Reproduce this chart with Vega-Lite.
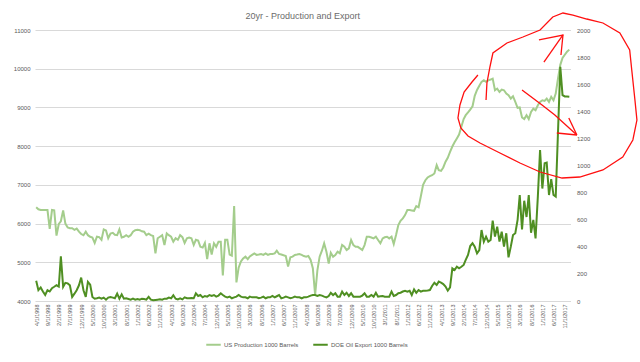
{
  "$schema": "https://vega.github.io/schema/vega-lite/v6.json",
  "width": 535.5,
  "height": 271,
  "autosize": "none",
  "padding": {"left": 35, "top": 30, "right": 69.5, "bottom": 61},
  "background": "white",
  "title": {"text": "20yr - Production  and Export", "font": "Liberation Sans", "fontSize": 9, "fontWeight": "normal", "color": "#6b6b6b", "anchor": "middle", "baseline": "bottom", "offset": -20},
  "config": {
    "view": {"stroke": null},
    "axis": {"labelFont": "Liberation Sans", "labelColor": "#595959", "labelFontSize": 6, "ticks": false, "tickSize": 0, "domain": false, "gridColor": "#d9d9d9", "gridWidth": 1, "title": null}
  },
  "datasets": {
    "series": [
      {"d":"1998-04-01","p":6420,"e":150},{"d":"1998-05-01","p":6370,"e":80},{"d":"1998-06-01","p":6350,"e":100},{"d":"1998-07-01","p":6350,"e":70},{"d":"1998-08-01","p":6350,"e":45},{"d":"1998-09-01","p":6350,"e":80},{"d":"1998-10-01","p":5860,"e":70},{"d":"1998-11-01","p":6350,"e":95},{"d":"1998-12-01","p":6340,"e":105},
      {"d":"1999-01-01","p":5690,"e":116},{"d":"1999-02-01","p":5990,"e":106},{"d":"1999-03-01","p":6060,"e":330},{"d":"1999-04-01","p":6340,"e":104},{"d":"1999-05-01","p":6000,"e":134},{"d":"1999-06-01","p":5900,"e":130},{"d":"1999-07-01","p":5880,"e":116},{"d":"1999-08-01","p":5880,"e":30},{"d":"1999-09-01","p":5840,"e":54},{"d":"1999-10-01","p":5870,"e":80},{"d":"1999-11-01","p":5790,"e":116},{"d":"1999-12-01","p":5730,"e":173},
      {"d":"2000-01-01","p":5700,"e":79},{"d":"2000-02-01","p":5790,"e":30},{"d":"2000-03-01","p":5700,"e":141},{"d":"2000-04-01","p":5660,"e":120},{"d":"2000-05-01","p":5640,"e":30},{"d":"2000-06-01","p":5500,"e":17},{"d":"2000-07-01","p":5660,"e":20},{"d":"2000-08-01","p":5650,"e":25},{"d":"2000-09-01","p":5580,"e":17},{"d":"2000-10-01","p":5850,"e":25},{"d":"2000-11-01","p":5820,"e":10},{"d":"2000-12-01","p":5620,"e":25},
      {"d":"2001-01-01","p":5740,"e":30},{"d":"2001-02-01","p":5760,"e":25},{"d":"2001-03-01","p":5710,"e":20},{"d":"2001-04-01","p":5700,"e":54},{"d":"2001-05-01","p":5850,"e":17},{"d":"2001-06-01","p":5640,"e":49},{"d":"2001-07-01","p":5660,"e":17},{"d":"2001-08-01","p":5700,"e":20},{"d":"2001-09-01","p":5660,"e":15},{"d":"2001-10-01","p":5700,"e":10},{"d":"2001-11-01","p":5790,"e":17},{"d":"2001-12-01","p":5830,"e":10},
      {"d":"2002-01-01","p":5840,"e":15},{"d":"2002-02-01","p":5830,"e":10},{"d":"2002-03-01","p":5800,"e":17},{"d":"2002-04-01","p":5790,"e":15},{"d":"2002-05-01","p":5700,"e":10},{"d":"2002-06-01","p":5740,"e":30},{"d":"2002-07-01","p":5700,"e":10},{"d":"2002-08-01","p":5680,"e":5},{"d":"2002-09-01","p":5230,"e":8},{"d":"2002-10-01","p":5620,"e":10},{"d":"2002-11-01","p":5660,"e":12},{"d":"2002-12-01","p":5700,"e":10},
      {"d":"2003-01-01","p":5445,"e":17},{"d":"2003-02-01","p":5745,"e":17},{"d":"2003-03-01","p":5700,"e":25},{"d":"2003-04-01","p":5660,"e":20},{"d":"2003-05-01","p":5530,"e":42},{"d":"2003-06-01","p":5620,"e":17},{"d":"2003-07-01","p":5580,"e":12},{"d":"2003-08-01","p":5700,"e":20},{"d":"2003-09-01","p":5650,"e":12},{"d":"2003-10-01","p":5500,"e":27},{"d":"2003-11-01","p":5620,"e":20},{"d":"2003-12-01","p":5640,"e":20},
      {"d":"2004-01-01","p":5620,"e":22},{"d":"2004-02-01","p":5450,"e":20},{"d":"2004-03-01","p":5580,"e":57},{"d":"2004-04-01","p":5560,"e":37},{"d":"2004-05-01","p":5400,"e":44},{"d":"2004-06-01","p":5380,"e":27},{"d":"2004-07-01","p":5500,"e":37},{"d":"2004-08-01","p":5080,"e":32},{"d":"2004-09-01","p":5490,"e":44},{"d":"2004-10-01","p":5200,"e":37},{"d":"2004-11-01","p":5490,"e":44},{"d":"2004-12-01","p":5400,"e":32},
      {"d":"2005-01-01","p":5530,"e":40},{"d":"2005-02-01","p":5530,"e":57},{"d":"2005-03-01","p":4660,"e":44},{"d":"2005-04-01","p":5580,"e":32},{"d":"2005-05-01","p":5580,"e":27},{"d":"2005-06-01","p":5200,"e":32},{"d":"2005-07-01","p":5170,"e":20},{"d":"2005-08-01","p":6450,"e":27},{"d":"2005-09-01","p":4480,"e":32},{"d":"2005-10-01","p":4860,"e":44},{"d":"2005-11-01","p":5020,"e":32},{"d":"2005-12-01","p":5100,"e":27},
      {"d":"2006-01-01","p":5146,"e":27},{"d":"2006-02-01","p":5080,"e":20},{"d":"2006-03-01","p":5150,"e":32},{"d":"2006-04-01","p":5190,"e":27},{"d":"2006-05-01","p":5230,"e":27},{"d":"2006-06-01","p":5190,"e":27},{"d":"2006-07-01","p":5200,"e":20},{"d":"2006-08-01","p":5215,"e":25},{"d":"2006-09-01","p":5190,"e":32},{"d":"2006-10-01","p":5230,"e":20},{"d":"2006-11-01","p":5190,"e":27},{"d":"2006-12-01","p":5215,"e":27},
      {"d":"2007-01-01","p":5215,"e":37},{"d":"2007-02-01","p":5230,"e":27},{"d":"2007-03-01","p":5300,"e":35},{"d":"2007-04-01","p":5215,"e":44},{"d":"2007-05-01","p":5200,"e":20},{"d":"2007-06-01","p":5180,"e":25},{"d":"2007-07-01","p":5164,"e":32},{"d":"2007-08-01","p":4890,"e":27},{"d":"2007-09-01","p":5130,"e":20},{"d":"2007-10-01","p":5146,"e":25},{"d":"2007-11-01","p":5190,"e":32},{"d":"2007-12-01","p":5200,"e":27},
      {"d":"2008-01-01","p":5215,"e":27},{"d":"2008-02-01","p":5190,"e":20},{"d":"2008-03-01","p":5160,"e":27},{"d":"2008-04-01","p":5146,"e":27},{"d":"2008-05-01","p":5164,"e":32},{"d":"2008-06-01","p":5060,"e":40},{"d":"2008-07-01","p":4845,"e":44},{"d":"2008-08-01","p":4155,"e":44},{"d":"2008-09-01","p":4800,"e":37},{"d":"2008-10-01","p":5145,"e":44},{"d":"2008-11-01","p":5300,"e":40},{"d":"2008-12-01","p":5490,"e":32},
      {"d":"2009-01-01","p":5273,"e":27},{"d":"2009-02-01","p":4970,"e":37},{"d":"2009-03-01","p":5247,"e":61},{"d":"2009-04-01","p":5145,"e":44},{"d":"2009-05-01","p":5187,"e":57},{"d":"2009-06-01","p":5273,"e":32},{"d":"2009-07-01","p":5230,"e":32},{"d":"2009-08-01","p":5445,"e":69},{"d":"2009-09-01","p":5400,"e":44},{"d":"2009-10-01","p":5316,"e":61},{"d":"2009-11-01","p":5360,"e":37},{"d":"2009-12-01","p":5575,"e":57},
      {"d":"2010-01-01","p":5445,"e":32},{"d":"2010-02-01","p":5400,"e":32},{"d":"2010-03-01","p":5400,"e":32},{"d":"2010-04-01","p":5360,"e":32},{"d":"2010-05-01","p":5316,"e":40},{"d":"2010-06-01","p":5445,"e":57},{"d":"2010-07-01","p":5660,"e":32},{"d":"2010-08-01","p":5660,"e":32},{"d":"2010-09-01","p":5640,"e":44},{"d":"2010-10-01","p":5617,"e":32},{"d":"2010-11-01","p":5660,"e":61},{"d":"2010-12-01","p":5575,"e":32},
      {"d":"2011-01-01","p":5490,"e":35},{"d":"2011-02-01","p":5617,"e":37},{"d":"2011-03-01","p":5645,"e":32},{"d":"2011-04-01","p":5660,"e":32},{"d":"2011-05-01","p":5617,"e":32},{"d":"2011-06-01","p":5660,"e":69},{"d":"2011-07-01","p":5470,"e":37},{"d":"2011-08-01","p":5703,"e":44},{"d":"2011-09-01","p":5960,"e":57},{"d":"2011-10-01","p":6072,"e":61},{"d":"2011-11-01","p":6133,"e":70},{"d":"2011-12-01","p":6220,"e":76},
      {"d":"2012-01-01","p":6350,"e":69},{"d":"2012-02-01","p":6350,"e":76},{"d":"2012-03-01","p":6340,"e":44},{"d":"2012-04-01","p":6330,"e":86},{"d":"2012-05-01","p":6450,"e":61},{"d":"2012-06-01","p":6420,"e":81},{"d":"2012-07-01","p":6700,"e":69},{"d":"2012-08-01","p":7000,"e":76},{"d":"2012-09-01","p":7120,"e":76},{"d":"2012-10-01","p":7190,"e":78},{"d":"2012-11-01","p":7225,"e":81},{"d":"2012-12-01","p":7250,"e":111},
      {"d":"2013-01-01","p":7295,"e":135},{"d":"2013-02-01","p":7510,"e":118},{"d":"2013-03-01","p":7380,"e":143},{"d":"2013-04-01","p":7360,"e":135},{"d":"2013-05-01","p":7450,"e":125},{"d":"2013-06-01","p":7600,"e":106},{"d":"2013-07-01","p":7700,"e":76},{"d":"2013-08-01","p":7850,"e":100},{"d":"2013-09-01","p":7990,"e":241},{"d":"2013-10-01","p":8100,"e":229},{"d":"2013-11-01","p":8200,"e":253},{"d":"2013-12-01","p":8300,"e":241},
      {"d":"2014-01-01","p":8500,"e":253},{"d":"2014-02-01","p":8700,"e":266},{"d":"2014-03-01","p":8800,"e":303},{"d":"2014-04-01","p":8870,"e":340},{"d":"2014-05-01","p":8945,"e":406},{"d":"2014-06-01","p":9030,"e":426},{"d":"2014-07-01","p":9300,"e":401},{"d":"2014-08-01","p":9450,"e":352},{"d":"2014-09-01","p":9560,"e":376},{"d":"2014-10-01","p":9660,"e":524},{"d":"2014-11-01","p":9700,"e":438},{"d":"2014-12-01","p":9660,"e":475},
      {"d":"2015-01-01","p":9700,"e":438},{"d":"2015-02-01","p":9720,"e":450},{"d":"2015-03-01","p":9745,"e":593},{"d":"2015-04-01","p":9444,"e":475},{"d":"2015-05-01","p":9487,"e":549},{"d":"2015-06-01","p":9400,"e":438},{"d":"2015-07-01","p":9461,"e":512},{"d":"2015-08-01","p":9444,"e":401},{"d":"2015-09-01","p":9358,"e":500},{"d":"2015-10-01","p":9315,"e":322},{"d":"2015-11-01","p":9229,"e":401},{"d":"2015-12-01","p":9289,"e":487},
      {"d":"2016-01-01","p":9143,"e":500},{"d":"2016-02-01","p":8990,"e":598},{"d":"2016-03-01","p":9000,"e":782},{"d":"2016-04-01","p":8740,"e":529},{"d":"2016-05-01","p":8700,"e":740},{"d":"2016-06-01","p":8800,"e":620},{"d":"2016-07-01","p":8700,"e":782},{"d":"2016-08-01","p":8885,"e":504},{"d":"2016-09-01","p":8970,"e":598},{"d":"2016-10-01","p":8928,"e":462},{"d":"2016-11-01","p":9057,"e":770},{"d":"2016-12-01","p":9143,"e":1114},
      {"d":"2017-01-01","p":9186,"e":830},{"d":"2017-02-01","p":9169,"e":1016},{"d":"2017-03-01","p":9229,"e":1021},{"d":"2017-04-01","p":9143,"e":782},{"d":"2017-05-01","p":9272,"e":900},{"d":"2017-06-01","p":9186,"e":782},{"d":"2017-07-01","p":9358,"e":770},{"d":"2017-08-01","p":9750,"e":1250},{"d":"2017-09-01","p":10100,"e":1729},{"d":"2017-10-01","p":10280,"e":1520},{"d":"2017-11-01","p":10360,"e":1510},{"d":"2017-12-01","p":10440,"e":1510},
      {"d":"2018-01-01","p":10493,"e":1508}
    ],
    "ink": [
      {"s":"loop","i":1,"d":"2014-08-13","v":9838},{"s":"loop","i":2,"d":"2014-05-25","v":9657},{"s":"loop","i":3,"d":"2014-02-07","v":9398},{"s":"loop","i":4,"d":"2013-12-13","v":9063},{"s":"loop","i":5,"d":"2013-11-16","v":8727},{"s":"loop","i":6,"d":"2013-12-25","v":8469},{"s":"loop","i":7,"d":"2014-04-01","v":8262},{"s":"loop","i":8,"d":"2014-09-10","v":8081},{"s":"loop","i":9,"d":"2015-06-07","v":7823},{"s":"loop","i":10,"d":"2016-03-04","v":7565},{"s":"loop","i":11,"d":"2016-12-01","v":7332},{"s":"loop","i":12,"d":"2017-09-25","v":7177},{"s":"loop","i":13,"d":"2018-05-22","v":7203},{"s":"loop","i":14,"d":"2019-04-01","v":7384},{"s":"loop","i":15,"d":"2019-12-25","v":7720},{"s":"loop","i":16,"d":"2020-05-10","v":8159},{"s":"loop","i":17,"d":"2020-07-04","v":8675},{"s":"loop","i":18,"d":"2020-06-07","v":9192},{"s":"loop","i":19,"d":"2020-04-25","v":9967},{"s":"loop","i":20,"d":"2020-03-28","v":10483},{"s":"loop","i":21,"d":"2019-11-16","v":10922},{"s":"loop","i":22,"d":"2019-04-01","v":11181},{"s":"loop","i":23,"d":"2018-08-25","v":11284},{"s":"loop","i":24,"d":"2018-02-19","v":11387},{"s":"loop","i":25,"d":"2017-10-07","v":11439},{"s":"loop","i":26,"d":"2017-05-22","v":11336},{"s":"loop","i":27,"d":"2016-12-01","v":11000},{"s":"loop","i":28,"d":"2016-04-13","v":10819},{"s":"loop","i":29,"d":"2015-09-10","v":10664},{"s":"loop","i":30,"d":"2015-03-04","v":10406},{"s":"loop","i":31,"d":"2015-01-22","v":10044},{"s":"loop","i":32,"d":"2014-12-13","v":9631},{"s":"loop","i":33,"d":"2014-12-01","v":9192},
      {"s":"a1","i":1,"d":"2016-11-16","v":10742},{"s":"a1","i":2,"d":"2017-10-07","v":10871},{"s":"a1","i":3,"d":"2017-09-10","v":10354},
      {"s":"a2","i":1,"d":"2017-01-22","v":10173},{"s":"a2","i":2,"d":"2017-10-07","v":10871},
      {"s":"b1","i":1,"d":"2016-04-01","v":9450},{"s":"b1","i":2,"d":"2016-12-28","v":9063},{"s":"b1","i":3,"d":"2017-06-19","v":8804},{"s":"b1","i":4,"d":"2018-04-13","v":8288},
      {"s":"b2","i":1,"d":"2017-12-25","v":8727},{"s":"b2","i":2,"d":"2018-04-13","v":8288},
      {"s":"b3","i":1,"d":"2017-07-16","v":8339},{"s":"b3","i":2,"d":"2018-04-13","v":8288}
    ]
  },
  "encoding": {
    "x": {"field": "d", "type": "temporal", "timeUnit": "utcyearmonthdate",
      "scale": {"domain": [{"year": 1998, "month": 3, "date": 16, "utc": true}, {"year": 2018, "month": 1, "date": 17, "utc": true}]},
      "axis": {"orient": "bottom", "format": "%-m/%-d/%Y", "labelAngle": -90, "labelOverlap": false, "labelFlush": false, "labelBound": false, "labelFontSize": 5.5, "labelPadding": 3, "grid": false,
        "values": [
          {"year":1998,"month":4,"date":1,"utc":true},{"year":1998,"month":9,"date":1,"utc":true},{"year":1999,"month":2,"date":1,"utc":true},{"year":1999,"month":7,"date":1,"utc":true},{"year":1999,"month":12,"date":1,"utc":true},
          {"year":2000,"month":5,"date":1,"utc":true},{"year":2000,"month":10,"date":1,"utc":true},{"year":2001,"month":3,"date":1,"utc":true},{"year":2001,"month":8,"date":1,"utc":true},{"year":2002,"month":1,"date":1,"utc":true},
          {"year":2002,"month":6,"date":1,"utc":true},{"year":2002,"month":11,"date":1,"utc":true},{"year":2003,"month":4,"date":1,"utc":true},{"year":2003,"month":9,"date":1,"utc":true},{"year":2004,"month":2,"date":1,"utc":true},
          {"year":2004,"month":7,"date":1,"utc":true},{"year":2004,"month":12,"date":1,"utc":true},{"year":2005,"month":5,"date":1,"utc":true},{"year":2005,"month":10,"date":1,"utc":true},{"year":2006,"month":3,"date":1,"utc":true},
          {"year":2006,"month":8,"date":1,"utc":true},{"year":2007,"month":1,"date":1,"utc":true},{"year":2007,"month":6,"date":1,"utc":true},{"year":2007,"month":11,"date":1,"utc":true},{"year":2008,"month":4,"date":1,"utc":true},
          {"year":2008,"month":9,"date":1,"utc":true},{"year":2009,"month":2,"date":1,"utc":true},{"year":2009,"month":7,"date":1,"utc":true},{"year":2009,"month":12,"date":1,"utc":true},{"year":2010,"month":5,"date":1,"utc":true},
          {"year":2010,"month":10,"date":1,"utc":true},{"year":2011,"month":3,"date":1,"utc":true},{"year":2011,"month":8,"date":1,"utc":true},{"year":2012,"month":1,"date":1,"utc":true},{"year":2012,"month":6,"date":1,"utc":true},
          {"year":2012,"month":11,"date":1,"utc":true},{"year":2013,"month":4,"date":1,"utc":true},{"year":2013,"month":9,"date":1,"utc":true},{"year":2014,"month":2,"date":1,"utc":true},{"year":2014,"month":7,"date":1,"utc":true},
          {"year":2014,"month":12,"date":1,"utc":true},{"year":2015,"month":5,"date":1,"utc":true},{"year":2015,"month":10,"date":1,"utc":true},{"year":2016,"month":3,"date":1,"utc":true},{"year":2016,"month":8,"date":1,"utc":true},
          {"year":2017,"month":1,"date":1,"utc":true},{"year":2017,"month":6,"date":1,"utc":true},{"year":2017,"month":11,"date":1,"utc":true}
        ]}}
  },
  "layer": [
    {
      "data": {"name": "series"},
      "mark": {"type": "line", "strokeWidth": 2, "clip": false},
      "encoding": {
        "y": {"field": "p", "type": "quantitative", "scale": {"domain": [4000, 11000], "zero": false, "nice": false},
          "axis": {"orient": "left", "values": [4000, 5000, 6000, 7000, 8000, 9000, 10000, 11000], "format": "d", "grid": true, "labelPadding": 5}},
        "color": {"datum": "US Production 1000 Barrels", "type": "nominal",
          "scale": {"domain": ["US Production 1000 Barrels", "DOE Oil Export 1000 Barrels"], "range": ["#a4cd8c", "#4f8f22"]},
          "legend": {"orient": "none", "legendX": 170, "legendY": 306, "direction": "horizontal", "title": null, "symbolType": "stroke", "symbolStrokeWidth": 2, "symbolSize": 210, "labelFont": "Liberation Sans", "labelFontSize": 6, "labelColor": "#595959", "labelOffset": 2, "columnPadding": 10}}
      }
    },
    {
      "data": {"name": "series"},
      "mark": {"type": "line", "strokeWidth": 2, "clip": false},
      "encoding": {
        "y": {"field": "e", "type": "quantitative", "scale": {"domain": [0, 2000], "nice": false},
          "axis": {"orient": "right", "values": [0, 200, 400, 600, 800, 1000, 1200, 1400, 1600, 1800, 2000], "format": "d", "grid": false, "labelPadding": 6}},
        "color": {"datum": "DOE Oil Export 1000 Barrels", "type": "nominal"}
      }
    },
    {
      "data": {"name": "ink"},
      "mark": {"type": "line", "color": "#ff1010", "strokeWidth": 1.3, "clip": false},
      "encoding": {
        "y": {"field": "v", "type": "quantitative", "scale": {"domain": [4000, 11000], "zero": false, "nice": false}, "axis": null},
        "detail": {"field": "s", "type": "nominal"},
        "order": {"field": "i", "type": "quantitative"}
      }
    }
  ],
  "resolve": {"scale": {"y": "independent"}, "axis": {"y": "independent"}}
}
